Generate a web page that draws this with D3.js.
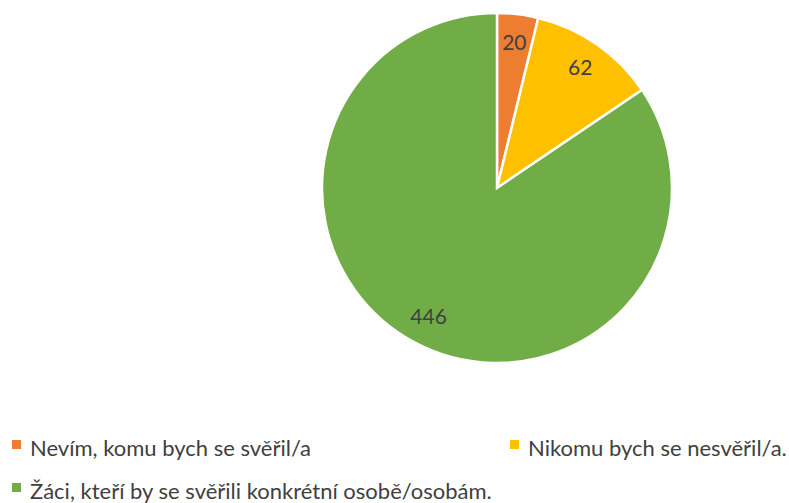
<!DOCTYPE html>
<html>
<head>
<meta charset="utf-8">
<script src="https://cdn.jsdelivr.net/npm/d3@7"></script>
<style>
  body { margin: 0; background: #fff; }
  text { font-family: Lato, "Open Sans", sans-serif; fill: #404040; }
</style>
</head>
<body>
<svg id="chart"></svg>
<script>
// chart data
const categories = ['Nevím, komu bych se svěřil/a', 'Nikomu bych se nesvěřil/a.', 'Žáci, kteří by se svěřili konkrétní osobě/osobám.'];
const values = [20, 62, 446];
const colors = ['#ED7D31', '#FFC000', '#70AD47'];

const width = 789, height = 503;
const cx = 497, cy = 188, radius = 175;

const svg = d3.select('#chart')
    .attr('width', width)
    .attr('height', height);

const chart = svg.append('g')
    .attr('transform', `translate(${cx},${cy})`);

const pie = d3.pie().sort(null).value(d => d);
const arcs = pie(values);

const arc = d3.arc().innerRadius(0).outerRadius(radius);
const labelArc = d3.arc().innerRadius(146).outerRadius(146);

chart.selectAll('path')
    .data(arcs)
    .enter()
    .append('path')
    .attr('d', arc)
    .attr('fill', (d, i) => colors[i])
    .attr('stroke', '#fff')
    .style('stroke-width', '2.5px');

chart.selectAll('text.lbl')
    .data(arcs)
    .enter()
    .append('text')
    .attr('class', 'lbl')
    .attr('transform', d => `translate(${labelArc.centroid(d)})`)
    .attr('text-anchor', 'middle')
    .attr('dy', '0.35em')
    .style('font-size', '21px')
    .text(d => d.data);

// legend
const legendPos = [[12, 449], [510, 449], [12, 492]];
const legend = svg.selectAll('g.legend')
    .data(categories)
    .enter()
    .append('g')
    .attr('class', 'legend')
    .attr('transform', (d, i) => `translate(${legendPos[i][0]},${legendPos[i][1]})`);

legend.append('rect')
    .attr('x', 0)
    .attr('y', -9)
    .attr('width', 9)
    .attr('height', 9)
    .attr('fill', (d, i) => colors[i]);

legend.append('text')
    .attr('x', 18)
    .attr('y', 0)
    .attr('dy', '0.3em')
    .style('font-size', '22px')
    .text(d => d);
</script>
</body>
</html>
